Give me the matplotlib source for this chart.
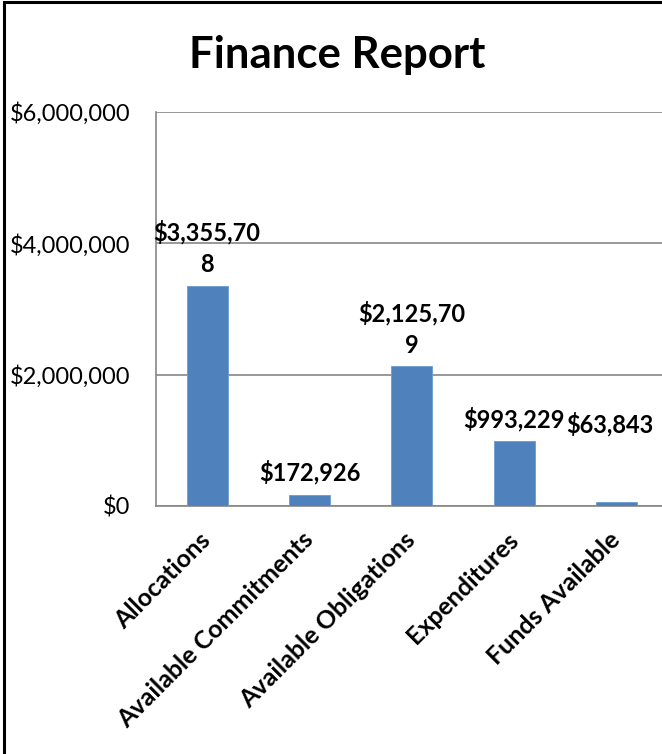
import textwrap
import matplotlib
matplotlib.use("Agg")
import matplotlib.pyplot as plt
from matplotlib.patches import Rectangle
from matplotlib.ticker import FuncFormatter
from matplotlib.transforms import ScaledTranslation

plt.rcParams["font.family"] = ["Lato", "DejaVu Sans"]

categories = ["Allocations", "Available Commitments", "Available Obligations",
              "Expenditures", "Funds Available"]
amounts = [3355708, 172926, 2125709, 993229, 63843]
y_ticks = [0, 2000000, 4000000, 6000000]


def money(v):
    return "${:,.0f}".format(v)


fig = plt.figure(figsize=(6.62, 7.54), dpi=100)
ax = fig.add_axes([0.2356, 0.329, 0.7734, 0.5225])

x = list(range(len(amounts)))
bars = ax.bar(x, amounts, width=0.4, color="#4f81bd", edgecolor="#6f9bd0",
              linewidth=0.6, zorder=3)

ax.set_xlim(-0.5, len(amounts) - 0.5)
ax.set_ylim(0, 6000000)
ax.set_yticks(y_ticks)
ax.yaxis.set_major_formatter(FuncFormatter(lambda v, _: money(v)))
ax.grid(axis="y", color="#868686", linewidth=1.2, zorder=0)
ax.tick_params(axis="y", length=0, pad=18.5, labelsize=17)
ax.tick_params(axis="x", length=0, pad=16)

ax.set_xticks(x)
ax.set_xticklabels(categories, rotation=45, ha="right", rotation_mode="anchor",
                   fontsize=18, fontweight="bold")
# nudge the slanted names a little to the left
shift = ScaledTranslation(-6 / 72, 0, fig.dpi_scale_trans)
for lab in ax.get_xticklabels():
    lab.set_transform(lab.get_transform() + shift)

for side in ["top", "right"]:
    ax.spines[side].set_visible(False)
for side in ["left", "bottom"]:
    ax.spines[side].set_color("#868686")
    ax.spines[side].set_linewidth(1.2)

# value labels, wrapped the way the spreadsheet wraps them
extra = {4: 40}
for i, (b, v) in enumerate(zip(bars, amounts)):
    txt = textwrap.fill(money(v), 9)
    dx = -5 if i == 4 else 0
    ax.annotate(txt, (b.get_x() + b.get_width() / 2, v),
                xytext=(dx, 7 + extra.get(i, 0)), textcoords="offset points",
                ha="center", va="bottom", fontsize=17, fontweight="bold",
                linespacing=1.45, annotation_clip=False)

fig.text(0.51, 0.927, "Finance Report", ha="center", va="center",
         fontsize=31.5, fontweight="bold")

# chart frame
fig.add_artist(Rectangle((4 / 662, -0.05), 1.2, 1.05 - 2 / 754,
                         transform=fig.transFigure, fill=False,
                         edgecolor="black", linewidth=2.2, clip_on=False))

fig.savefig("out.png", dpi=100)
